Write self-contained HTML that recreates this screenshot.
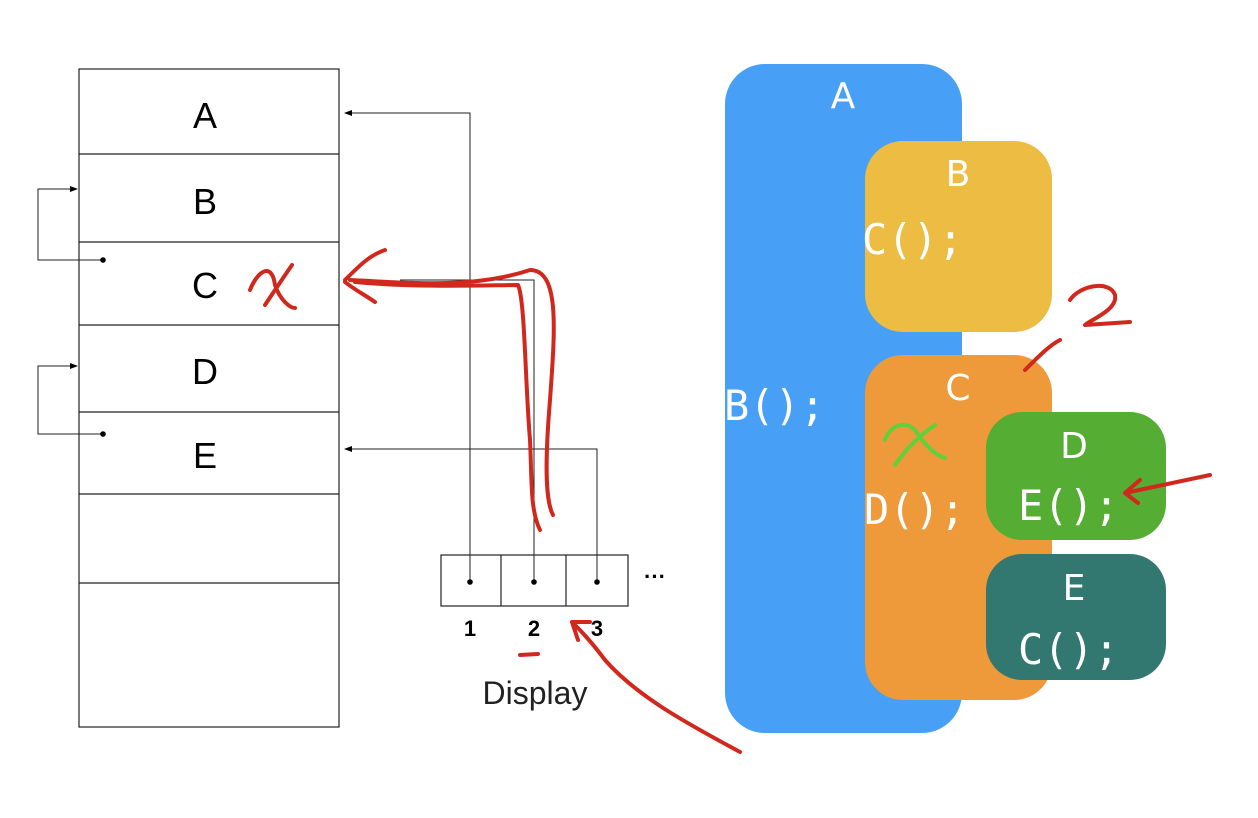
<!DOCTYPE html>
<html><head><meta charset="utf-8"><style>
html,body{margin:0;padding:0;background:#fff;}
svg{display:block;}
</style></head><body>
<svg width="1258" height="818" viewBox="0 0 1258 818" xmlns="http://www.w3.org/2000/svg">
<defs>
<marker id="ar" markerWidth="8" markerHeight="8" refX="7" refY="4" orient="auto" markerUnits="userSpaceOnUse"><path d="M0,1 L8,4 L0,7 Z" fill="#000"/></marker>
</defs>
<rect width="1258" height="818" fill="#fff"/>
<g stroke="#222" stroke-width="1.2" fill="none">
<rect x="79" y="69" width="260" height="658"/>
<line x1="79" y1="154" x2="339" y2="154"/>
<line x1="79" y1="242" x2="339" y2="242"/>
<line x1="79" y1="325" x2="339" y2="325"/>
<line x1="79" y1="412" x2="339" y2="412"/>
<line x1="79" y1="494" x2="339" y2="494"/>
<line x1="79" y1="583" x2="339" y2="583"/>
<rect x="441" y="555" width="187" height="51"/>
<line x1="501" y1="555" x2="501" y2="606"/>
<line x1="566" y1="555" x2="566" y2="606"/>
<polyline points="470,582 470,113 345,113" marker-end="url(#ar)" stroke-width="1"/>
<polyline points="597,582 597,449 345,449" marker-end="url(#ar)" stroke-width="1"/>
<polyline points="534,582 534,280 400,280" stroke-width="1"/>
<polyline points="103,260 38,260 38,189 77,189" marker-end="url(#ar)" stroke-width="1"/>
<polyline points="103,434 38,434 38,366 77,366" marker-end="url(#ar)" stroke-width="1"/>
</g>
<g fill="#000">
<circle cx="470" cy="582" r="2.8"/><circle cx="534" cy="582" r="2.8"/><circle cx="597" cy="582" r="2.8"/>
<circle cx="103" cy="260" r="2.8"/><circle cx="103" cy="434" r="2.8"/>
</g>
<g font-family="Liberation Sans, sans-serif" font-size="36" text-anchor="middle" fill="#000">
<text x="205" y="128">A</text><text x="205" y="214">B</text><text x="205" y="298">C</text><text x="205" y="384">D</text><text x="205" y="468">E</text>
</g>
<g font-family="Liberation Sans, sans-serif" font-size="22" font-weight="bold" text-anchor="middle">
<text x="470" y="636">1</text><text x="534" y="636">2</text><text x="597" y="636">3</text>
<text x="655" y="584">···</text>
</g>
<text x="535" y="704" font-family="Liberation Sans, sans-serif" font-size="32" text-anchor="middle" fill="#222">Display</text>
<rect x="725" y="64" width="237" height="669" rx="40" fill="#47a0f5"/>
<rect x="865" y="141" width="187" height="191" rx="38" fill="#ecbd42"/>
<rect x="865" y="355" width="187" height="345" rx="38" fill="#ee9a3a"/>
<rect x="986" y="412" width="180" height="128" rx="36" fill="#55ad34"/>
<rect x="986" y="554" width="180" height="126" rx="36" fill="#327870"/>
<g font-family="DejaVu Sans, sans-serif" font-size="36" fill="#fff">
<text x="843" y="108" text-anchor="middle">A</text>
<text x="958" y="186" text-anchor="middle">B</text>
<text x="958" y="400" text-anchor="middle">C</text>
<text x="1074" y="458" text-anchor="middle">D</text>
<text x="1074" y="600" text-anchor="middle">E</text>
</g>
<g font-family="DejaVu Sans Mono, monospace" font-size="42" fill="#fff">
<text x="862" y="254">C();</text>
<text x="724" y="420">B();</text>
<text x="864" y="524">D();</text>
<text x="1018" y="520">E();</text>
<text x="1018" y="664">C();</text>
</g>
<g stroke="#d1281e" stroke-width="4" fill="none" stroke-linecap="round" stroke-linejoin="round">
<path d="M250,290 C258,270 272,262 275,285 C280,300 290,308 295,308"/>
<path d="M265,305 C275,290 285,275 292,265"/>
<path d="M345,280 C360,265 370,255 385,250 M345,282 C355,290 365,295 375,302 M350,280 C400,282 470,290 530,270 C560,270 555,330 550,400 C545,460 545,500 553,515"/>
<path d="M355,282 C420,288 490,285 518,285 C525,300 525,380 530,440 C532,480 530,510 540,530"/>
<path d="M520,655 L538,654"/>
<path d="M740,752 C700,730 640,700 605,660 C590,640 580,630 572,622 M572,622 L590,622 M572,622 L578,640"/>
<path d="M1025,370 C1040,355 1050,345 1060,340 M1070,300 C1080,285 1110,280 1115,295 C1118,310 1090,320 1085,325 L1130,322"/>
<path d="M1210,475 L1125,493 M1125,493 L1140,480 M1125,493 L1138,503"/>
</g>
<g stroke="#5fd13a" stroke-width="4" fill="none" stroke-linecap="round">
<path d="M885,440 C890,425 905,420 915,430 C925,445 935,455 945,458"/>
<path d="M895,465 C905,450 920,435 935,425"/>
</g>
</svg>
</body></html>
